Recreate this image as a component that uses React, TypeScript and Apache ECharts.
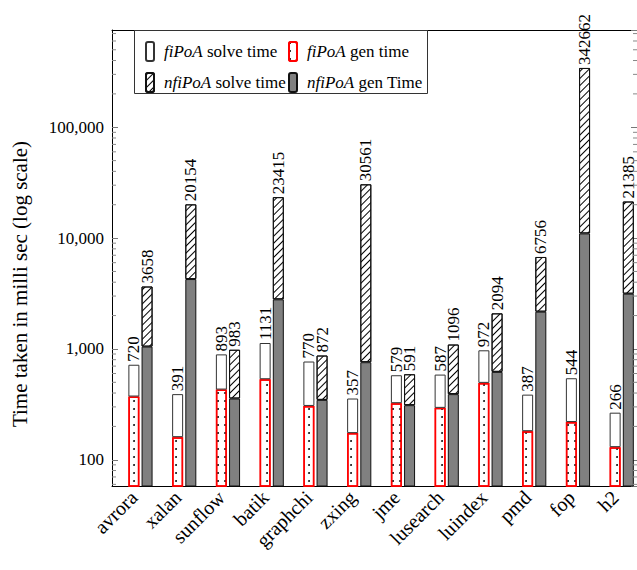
import React, { useEffect, useRef } from "react";
import * as echarts from "echarts";

const categories = ["avrora", "xalan", "sunflow", "batik", "graphchi", "zxing", "jme", "lusearch", "luindex", "pmd", "fop", "h2"];
const fiTotal = [720, 391, 893, 1131, 770, 357, 579, 587, 972, 387, 544, 266];
const fiGen = [372, 160, 430, 533, 306, 174, 324, 294, 494, 181, 219, 130];
const nfiTotal = [3658, 20154, 983, 23415, 872, 30561, 591, 1096, 2094, 6756, 342662, 21385];
const nfiGen = [1049, 4270, 357, 2803, 347, 759, 311, 391, 621, 2168, 11020, 3150];
const minorTickValues = [
  60, 70, 80, 90,
  200, 300, 400, 500, 600, 700, 800, 900,
  2000, 3000, 4000, 5000, 6000, 7000, 8000, 9000,
  20000, 30000, 40000, 50000, 60000, 70000, 80000, 90000,
  200000, 300000, 400000, 500000, 600000, 700000,
];
const Y_MIN = 58;
const Y_MAX = 754000;

const FONT = "Liberation Serif";

export default function App() {
  const ref = useRef<HTMLDivElement>(null);
  useEffect(() => {
    if (!ref.current) return;
    const chart = echarts.init(ref.current, null, { renderer: "svg" });
    const fiSolve = fiTotal.map((t, i) => t - fiGen[i]);
    const nfiSolve = nfiTotal.map((t, i) => t - nfiGen[i]);
    const legendFormatter = (name: string) => name.replace(/^(n?fiPoA)/, "{i|$1}");
    const legendText = {
      fontFamily: FONT,
      fontSize: 17,
      color: "#000",
      padding: [0, 0, 0, 5],
      rich: { i: { fontFamily: FONT, fontSize: 17, fontStyle: "italic", color: "#000" } },
    };
    const labelCommon = {
      show: true,
      position: "top",
      rotate: 90,
      align: "left",
      verticalAlign: "middle",
      distance: 3,
      fontFamily: FONT,
      fontSize: 17,
      color: "#000",
    };
    const option: any = {
      animation: false,
      backgroundColor: "#fff",
      grid: { left: 112, top: 30, width: 525, height: 456 },
      legend: [
        {
          left: 140,
          top: 36,
          orient: "vertical",
          itemWidth: 8,
          itemHeight: 19,
          itemGap: 10,
          data: ["fiPoA solve time", "nfiPoA solve time"],
          formatter: legendFormatter,
          textStyle: legendText,
          selectedMode: false,
        },
        {
          left: 283,
          top: 36,
          orient: "vertical",
          itemWidth: 8,
          itemHeight: 19,
          itemGap: 10,
          data: ["fiPoA gen time", "nfiPoA gen Time"],
          formatter: legendFormatter,
          textStyle: legendText,
          selectedMode: false,
        },
      ],
      graphic: [
        {
          type: "rect",
          left: 134,
          top: 30,
          shape: { width: 293, height: 63 },
          style: { fill: "#fff", stroke: "#333", lineWidth: 1 },
          z: 1,
        },
      ],
      xAxis: [
        {
          type: "category",
          data: categories,
          position: "bottom",
          axisLine: { lineStyle: { color: "#000", width: 1 } },
          axisTick: { alignWithLabel: true, length: 6, lineStyle: { color: "#999" } },
          axisLabel: { rotate: 45, fontFamily: FONT, fontSize: 20, color: "#000", margin: 8 },
          splitLine: { show: false },
        },
        {
          type: "category",
          data: categories,
          position: "top",
          axisLine: { lineStyle: { color: "#000", width: 1 } },
          axisTick: { alignWithLabel: true, length: 8, lineStyle: { color: "#999" } },
          axisLabel: { show: false },
          splitLine: { show: false },
        },
      ],
      yAxis: [
        {
          type: "log",
          min: Y_MIN,
          max: Y_MAX,
          logBase: 10,
          name: "Time taken in milli sec (log scale)",
          nameLocation: "middle",
          nameGap: 82,
          nameTextStyle: { fontFamily: FONT, fontSize: 21, color: "#000", padding: [0, 52, 0, 0] },
          axisLine: { show: true, lineStyle: { color: "#000", width: 1 } },
          axisTick: { show: true, inside: true, length: 6, lineStyle: { color: "#777" } },
          axisLabel: {
            fontFamily: FONT,
            fontSize: 17,
            color: "#000",
            margin: 8,
            showMinLabel: false,
            showMaxLabel: false,
            formatter: (v: number) => Math.round(v).toLocaleString("en-US"),
          },
          splitLine: { show: false },
        },
        {
          type: "log",
          min: Y_MIN,
          max: Y_MAX,
          logBase: 10,
          position: "right",
          axisLine: { show: true, lineStyle: { color: "#000", width: 1 } },
          axisTick: { show: true, inside: true, length: 6, lineStyle: { color: "#777" } },
          axisLabel: { show: false },
          splitLine: { show: false },
        },
      ],
      series: [
        {
          name: "spacer",
          type: "bar",
          stack: "spacer",
          barWidth: 11,
          barGap: "20%",
          data: categories.map(() => "-"),
        },
        {
          name: "fiPoA gen time",
          type: "bar",
          stack: "fi",
          barWidth: 11,
          barGap: "20%",
          data: fiGen,
          itemStyle: {
            color: "#fff",
            borderColor: "#ff0000",
            borderWidth: 1.5,
            decal: {
              symbol: "circle",
              symbolSize: 0.9,
              color: "#000",
              backgroundColor: "#fff",
              dashArrayX: [2, 5],
              dashArrayY: [2, 6],
              rotation: 0,
            },
          },
        },
        {
          name: "fiPoA solve time",
          type: "bar",
          stack: "fi",
          barWidth: 11,
          barGap: "20%",
          data: fiSolve,
          itemStyle: { color: "#fff", borderColor: "#333", borderWidth: 1 },
          label: { ...labelCommon, formatter: (p: any) => String(fiTotal[p.dataIndex]) },
        },
        {
          name: "nfiPoA gen Time",
          type: "bar",
          stack: "nfi",
          barWidth: 11,
          barGap: "20%",
          data: nfiGen,
          itemStyle: { color: "#808080", borderColor: "#111", borderWidth: 1 },
        },
        {
          name: "nfiPoA solve time",
          type: "bar",
          stack: "nfi",
          barWidth: 11,
          barGap: "20%",
          data: nfiSolve,
          itemStyle: {
            color: "#fff",
            borderColor: "#111",
            borderWidth: 1,
            decal: {
              symbol: "rect",
              symbolSize: 1,
              color: "#000",
              backgroundColor: "#fff",
              dashArrayX: [1, 0],
              dashArrayY: [1, 4],
              rotation: -Math.PI / 4,
            },
          },
          label: { ...labelCommon, formatter: (p: any) => String(nfiTotal[p.dataIndex]) },
        },
        {
          name: "minorTicks",
          type: "custom",
          xAxisIndex: 0,
          yAxisIndex: 0,
          silent: true,
          z: 5,
          data: minorTickValues.map((v) => [0, v]),
          renderItem: (params: any, api: any) => {
            const y = api.coord([0, api.value(1)])[1];
            const cs = params.coordSys;
            return {
              type: "group",
              children: [
                { type: "line", shape: { x1: cs.x, y1: y, x2: cs.x + 4, y2: y }, style: { stroke: "#888", lineWidth: 1 } },
                {
                  type: "line",
                  shape: { x1: cs.x + cs.width - 4, y1: y, x2: cs.x + cs.width, y2: y },
                  style: { stroke: "#888", lineWidth: 1 },
                },
              ],
            };
          },
        },
      ],
    };
    chart.setOption(option);
    return () => chart.dispose();
  }, []);
  return <div ref={ref} style={{ position: "fixed", left: 0, top: 0, width: 637, height: 570 }} />;
}
